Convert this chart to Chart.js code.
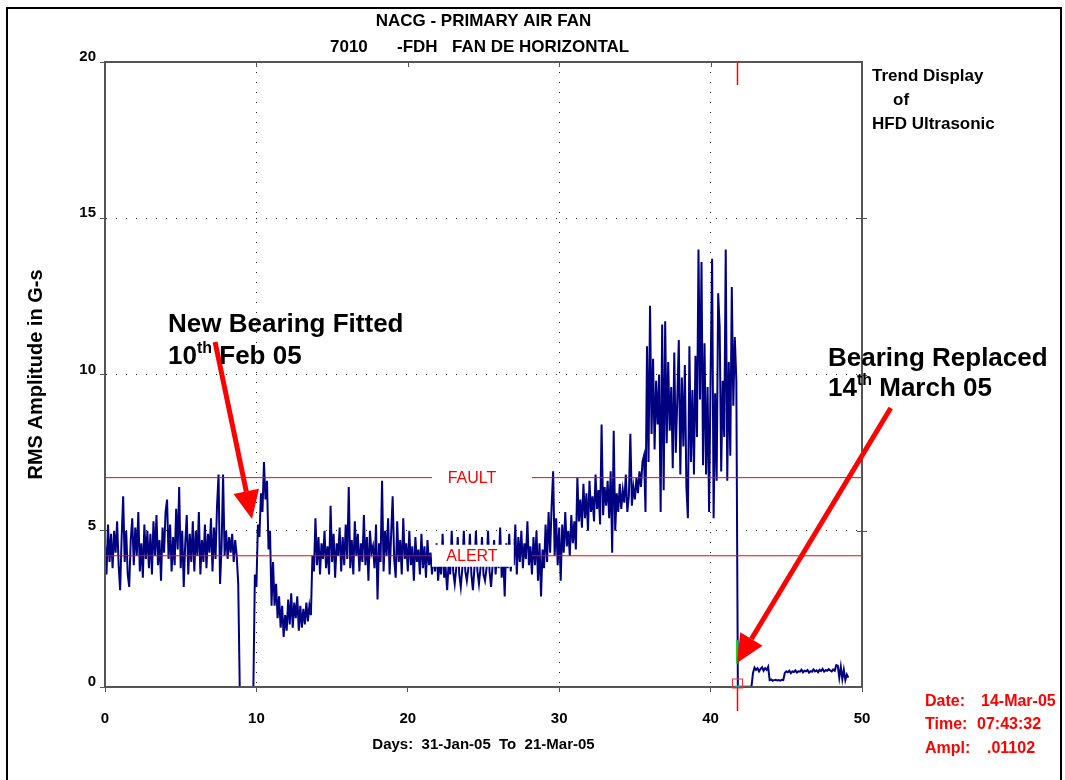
<!DOCTYPE html>
<html>
<head>
<meta charset="utf-8">
<title>NACG - Primary Air Fan HFD trend</title>
<script src="https://cdn.jsdelivr.net/npm/chart.js@4.4.1/dist/chart.umd.min.js"></script>
<style>
  html, body { margin: 0; padding: 0; background: #fff; }
  canvas { display: block; }
</style>
</head>
<body>
<canvas id="trend" width="1065" height="780"></canvas>
<script>
// HFD ultrasonic RMS amplitude (G-s), one reading every 0.1 day
const STEP = 0.1;

// day 0.0 - 8.8, old bearing
const oldBearing = [
  4.6, 3.6, 5.2, 4.0, 4.9, 3.8, 5.0, 4.3, 5.3, 3.9,
  3.1, 4.8, 6.1, 4.0, 5.0, 3.6, 3.2, 4.7, 5.4, 3.9,
  5.1, 4.2, 5.6, 3.7, 4.6, 3.5, 5.2, 4.1, 5.0, 3.8,
  4.9, 3.6, 5.3, 4.2, 5.5, 3.9, 4.7, 3.4, 5.1, 4.3,
  5.6, 6.0, 4.1, 5.2, 3.7, 4.8, 3.9, 5.7, 4.4, 6.4,
  3.8, 5.0, 3.2, 4.6, 5.5, 3.6, 4.9, 4.0, 5.3, 3.7,
  5.0, 4.2, 5.6, 3.6, 4.7, 4.0, 5.2, 3.8, 4.9, 4.3,
  5.4, 3.7, 5.1, 4.1, 5.8, 6.8, 3.3, 4.5, 6.8, 4.2,
  5.0, 4.1, 4.8, 4.3, 4.9, 4.0, 4.7, 4.2, 3.3
];
// day 8.9 - 9.8, fan stopped for the bearing change
const shutdown = [0, 0, 0, 0, 0, 0, 0, 0, 0, 0];
// day 9.9 - 13.6, new bearing running in
const runIn = [
  3.6, 3.2, 5.2, 4.8, 6.2, 5.6, 7.2, 6.0, 6.6, 4.4,
  5.0, 2.6, 4.0, 2.6, 3.3, 2.2, 2.9, 1.9, 2.6, 1.6,
  2.3, 1.8, 2.8, 2.0, 3.0, 1.9, 2.7, 2.2, 2.9, 1.8,
  2.6, 1.9, 2.5, 2.0, 2.7, 2.1, 2.6, 2.3
];
// day 13.7 - 21.7
const settled = [
  4.2, 3.7, 5.4, 3.9, 4.8, 3.6, 4.6, 4.1, 5.0, 3.8,
  4.5, 3.6, 5.8, 4.0, 4.9, 3.5, 4.6, 4.2, 5.1, 3.7,
  4.8, 3.9, 5.2, 4.1, 6.4, 3.8, 4.7, 3.6, 5.3, 4.2,
  4.9, 3.7, 4.6, 4.0, 5.5, 3.9, 4.8, 3.4, 5.0, 4.3,
  4.5, 3.8, 5.2, 2.8, 4.6, 4.0, 6.6, 3.7, 5.0, 4.2,
  5.4, 3.6, 4.9, 6.1, 4.1, 3.5, 5.3, 4.0, 4.7, 3.6,
  5.4, 4.1, 4.6, 3.7, 5.0, 3.9, 4.5, 3.4, 4.8, 4.0,
  4.4, 3.6, 4.9, 3.8, 4.5, 3.5, 4.7, 3.9, 4.3, 3.6,
  4.4
];
// day 21.8 - 28.0
const quietSpell = [
  3.7, 4.6, 3.4, 4.0, 3.6, 4.9, 3.5, 3.8, 3.1, 4.0,
  3.6, 5.0, 3.7, 3.3, 3.8, 4.8, 3.6, 3.2, 3.8, 5.0,
  3.7, 3.4, 3.8, 4.9, 3.6, 3.1, 3.8, 5.0, 3.7, 3.3,
  3.8, 4.8, 3.6, 3.4, 3.8, 5.0, 3.7, 3.2, 3.9, 4.7,
  3.6, 4.4, 3.8, 5.1, 3.5, 4.2, 2.9, 4.6, 3.8, 4.9,
  3.7, 4.5, 3.9, 5.2, 3.6, 4.8, 4.0, 5.0, 3.8, 4.6,
  4.1, 5.3, 3.9
];
// day 28.1 - 35.5
const degrading = [
  4.5, 3.6, 4.8, 3.9, 5.0, 3.4, 4.6, 2.9, 4.4, 3.8,
  5.2, 4.0, 5.6, 4.3, 5.8, 6.9, 4.2, 5.4, 3.9, 5.1,
  3.4, 5.2, 4.3, 5.6, 4.5, 5.0, 4.2, 5.5, 4.6, 5.3,
  4.4, 6.7, 5.3, 6.0, 5.1, 6.5, 5.4, 6.2, 5.0, 6.6,
  5.6, 6.1, 5.3, 6.8, 5.7, 6.3, 5.2, 8.4, 5.5, 6.4,
  5.8, 6.6, 5.4, 6.9, 4.3, 8.2, 5.0, 6.2, 5.6, 6.5,
  5.7, 6.3, 5.9, 6.8, 5.6, 6.1, 8.1, 5.8, 6.4, 6.0,
  6.7, 6.2, 6.9, 6.4, 7.2
];
// day 35.6 - 41.7
const failing = [
  7.4, 5.6, 10.9, 7.2, 12.2, 8.1, 10.5, 7.6, 9.8, 8.4,
  10.0, 5.6, 11.6, 6.3, 11.7, 7.8, 10.4, 8.2, 9.6, 7.0,
  10.7, 7.5, 9.2, 11.1, 6.8, 9.9, 7.7, 10.3, 6.4, 5.4,
  10.9, 7.2, 9.5, 6.8, 10.6, 8.0, 14.0, 9.2, 13.6, 7.1,
  11.0, 6.8, 9.6, 5.6, 10.0, 13.7, 5.4, 9.4, 6.6, 12.6,
  11.5, 6.9, 9.8, 8.0, 14.0, 6.6, 10.4, 7.4, 12.8, 9.0,
  11.2, 9.8
];
// day 41.8 - 49.1, after the bearing was replaced
const replaced = [
  0.01, 0.01, 0.01, 0.01, 0.01, 0.01, 0.01, 0.01, 0.01, 0.01,
  0.45, 0.62, 0.55, 0.60, 0.50, 0.58, 0.63, 0.52, 0.60, 0.55, 0.65,
  0.22, 0.24, 0.20, 0.22, 0.23, 0.21, 0.22, 0.20, 0.23, 0.22,
  0.45, 0.50, 0.47, 0.52, 0.44, 0.50, 0.48, 0.53, 0.46, 0.50,
  0.49, 0.55, 0.47, 0.52, 0.50, 0.54, 0.46, 0.51, 0.49, 0.56,
  0.50, 0.53, 0.47, 0.55, 0.51, 0.58, 0.49, 0.54, 0.52, 0.57,
  0.53, 0.50, 0.56, 0.52,
  0.70, 0.68, 0.30, 0.65, 0.25, 0.55, 0.22, 0.40, 0.30
];

const segments = [oldBearing, shutdown, runIn, settled, quietSpell, degrading, failing, replaced];
const segmentStart = [0, 8.9, 9.9, 13.7, 21.8, 28.1, 35.6, 41.8];

const FAULT_LEVEL = 6.7;
const ALERT_LEVEL = 4.2;
const labelGap = [21.6, 28.2];   // limit lines break here for their labels
const cursorDay = 41.75;
const cursorMark = [0.75, 1.5];  // green part of the trace at the cursor

const xTicks = [0, 10, 20, 30, 40, 50];
const yTicks = [0, 5, 10, 15, 20];

const FONT = '"Liberation Sans", Arial, Helvetica, sans-serif';

const trace = [];
segments.forEach((seg, s) => {
  seg.forEach((v, i) => {
    trace.push({ x: Math.round((segmentStart[s] + i * STEP) * 100) / 100, y: v });
  });
});

function limitLine(level) {
  return [
    { x: 0, y: level }, { x: labelGap[0], y: level },
    { x: (labelGap[0] + labelGap[1]) / 2, y: null },
    { x: labelGap[1], y: level }, { x: 50, y: level }
  ];
}

function arrow(ctx, x0, y0, x1, y1) {
  const a = Math.atan2(y1 - y0, x1 - x0);
  const len = 28, half = 13;
  const bx = x1 - len * Math.cos(a), by = y1 - len * Math.sin(a);
  ctx.strokeStyle = '#ff0000';
  ctx.fillStyle = '#ff0000';
  ctx.lineWidth = 5;
  ctx.beginPath();
  ctx.moveTo(x0, y0);
  ctx.lineTo(bx, by);
  ctx.stroke();
  ctx.beginPath();
  ctx.moveTo(x1, y1);
  ctx.lineTo(bx + half * Math.sin(a), by - half * Math.cos(a));
  ctx.lineTo(bx - half * Math.sin(a), by + half * Math.cos(a));
  ctx.closePath();
  ctx.fill();
}

// text with a raised ordinal suffix, e.g. 10th
function supText(ctx, x, y, parts, size) {
  parts.forEach(p => {
    const sup = p[1];
    ctx.font = 'bold ' + (sup ? Math.round(size * 0.62) : size) + 'px ' + FONT;
    ctx.fillText(p[0], x, sup ? y - size * 0.42 : y);
    x += ctx.measureText(p[0]).width;
  });
}

const decor = {
  id: 'decor',
  afterDatasetsDraw(chart) {
    const { ctx, chartArea: a, scales: { x, y } } = chart;
    ctx.save();

    // limit labels
    const lx = x.getPixelForValue((labelGap[0] + labelGap[1]) / 2) - 10;
    const ay = y.getPixelForValue(ALERT_LEVEL);
    ctx.fillStyle = '#fff';
    ctx.fillRect(x.getPixelForValue(labelGap[0]), ay - 11, x.getPixelForValue(27.0) - x.getPixelForValue(labelGap[0]), 22);
    ctx.fillStyle = '#ff0000';
    ctx.font = '16px ' + FONT;
    ctx.textAlign = 'center';
    ctx.textBaseline = 'middle';
    ctx.fillText('FAULT', lx, y.getPixelForValue(FAULT_LEVEL) + 1);
    ctx.fillText('ALERT', lx, ay + 1);

    // plot frame and the ticks on the top and right edges
    ctx.strokeStyle = '#555';
    ctx.lineWidth = 2;
    ctx.strokeRect(a.left, a.top, a.right - a.left, a.bottom - a.top);
    ctx.lineWidth = 1;
    ctx.beginPath();
    xTicks.slice(1, -1).forEach(t => {
      const px = Math.round(x.getPixelForValue(t)) + 0.5;
      ctx.moveTo(px, a.top);
      ctx.lineTo(px, a.top + 5);
    });
    yTicks.slice(1, -1).forEach(t => {
      const py = Math.round(y.getPixelForValue(t)) + 0.5;
      ctx.moveTo(a.right - 5, py);
      ctx.lineTo(a.right + 5, py);
    });
    ctx.stroke();

    // date cursor
    const cx = Math.round(x.getPixelForValue(cursorDay)) + 0.5;
    ctx.strokeStyle = '#ff0000';
    ctx.lineWidth = 1.5;
    ctx.beginPath();
    ctx.moveTo(cx, a.top);
    ctx.lineTo(cx, a.top + 23);
    ctx.moveTo(cx, a.bottom);
    ctx.lineTo(cx, a.bottom + 24);
    ctx.stroke();
    ctx.lineWidth = 1;
    ctx.strokeStyle = '#00d8d8';
    ctx.beginPath();
    ctx.moveTo(cx - 3, a.bottom - 1);
    ctx.lineTo(cx + 3, a.bottom - 1);
    ctx.stroke();
    ctx.strokeStyle = '#ff3030';
    ctx.strokeRect(cx - 5, a.bottom - 8, 10, 9);

    // arrows
    arrow(ctx, x.getPixelForValue(7.27), y.getPixelForValue(11.04), x.getPixelForValue(9.71), y.getPixelForValue(5.38));
    arrow(ctx, x.getPixelForValue(51.9), y.getPixelForValue(8.93), x.getPixelForValue(41.74), y.getPixelForValue(0.77));

    // annotations
    ctx.textAlign = 'left';
    ctx.textBaseline = 'alphabetic';
    ctx.fillStyle = '#000';
    supText(ctx, 168, 332, [['New Bearing Fitted']], 26);
    supText(ctx, 168, 364, [['10'], ['th', true], [' Feb 05']], 26);
    supText(ctx, 828, 366, [['Bearing Replaced']], 26);
    supText(ctx, 828, 396, [['14'], ['th', true], [' March 05']], 26);

    // titles
    ctx.font = 'bold 17px ' + FONT;
    ctx.textAlign = 'center';
    ctx.fillText('NACG - PRIMARY AIR FAN', (a.left + a.right) / 2, 26);
    ctx.textAlign = 'left';
    ctx.fillText('7010', 330, 52);
    ctx.fillText('-FDH', 397, 52);
    ctx.fillText('FAN DE HORIZONTAL', 452, 52);

    ctx.fillText('Trend Display', 872, 81);
    ctx.fillText('of', 893, 105);
    ctx.fillText('HFD Ultrasonic', 872, 129);

    ctx.fillStyle = '#ff0000';
    ctx.font = 'bold 16px ' + FONT;
    ctx.fillText('Date:', 925, 706);
    ctx.fillText('14-Mar-05', 981, 706);
    ctx.fillText('Time:', 925, 729);
    ctx.fillText('07:43:32', 977, 729);
    ctx.fillText('Ampl:', 925, 753);
    ctx.fillText('.01102', 987, 753);

    // outer border
    ctx.strokeStyle = '#000';
    ctx.lineWidth = 2;
    ctx.strokeRect(7, 8, 1054, 800);
    ctx.restore();
  }
};

const gridColor = c => (c.tick && (c.tick.value === 0 || c.tick.value === 20 || c.tick.value === 50)) ? 'rgba(0,0,0,0)' : '#222';

new Chart(document.getElementById('trend'), {
  type: 'line',
  data: {
    datasets: [
      { label: 'HFD', data: trace, borderColor: '#000080', borderWidth: 2, pointRadius: 0, order: 3 },
      { label: 'Fault', data: limitLine(FAULT_LEVEL), borderColor: '#ff0000', borderWidth: 1, pointRadius: 0, spanGaps: false, order: 1 },
      { label: 'Alert', data: limitLine(ALERT_LEVEL), borderColor: '#ff0000', borderWidth: 1, pointRadius: 0, spanGaps: false, order: 1 },
      { label: 'Cursor', data: [{ x: cursorDay, y: cursorMark[0] }, { x: cursorDay, y: cursorMark[1] }], borderColor: '#00e000', borderWidth: 2, pointRadius: 0, order: 0 }
    ]
  },
  options: {
    responsive: false,
    animation: false,
    events: [],
    layout: { padding: { top: 62, right: 203, bottom: 0, left: 0 } },
    plugins: { legend: { display: false }, tooltip: { enabled: false } },
    scales: {
      x: {
        type: 'linear', min: 0, max: 50,
        afterFit: s => { s.height = 93; },
        afterBuildTicks: s => { s.ticks = xTicks.map(v => ({ value: v })); },
        ticks: { color: '#000', font: { family: FONT, size: 15, weight: 'bold' }, padding: 18, maxRotation: 0 },
        grid: { color: gridColor, tickColor: '#555', tickLength: 5, lineWidth: 1 },
        border: { color: '#555', width: 2, dash: [1, 9] },
        title: { display: true, text: 'Days:  31-Jan-05  To  21-Mar-05', color: '#000', font: { family: FONT, size: 15, weight: 'bold' }, padding: { top: 0, bottom: 26 } }
      },
      y: {
        min: 0, max: 20,
        afterFit: s => { s.width = 105; },
        afterBuildTicks: s => { s.ticks = yTicks.map(v => ({ value: v })); },
        ticks: { color: '#000', font: { family: FONT, size: 15, weight: 'bold' }, padding: 4, labelOffset: -5 },
        grid: { color: gridColor, tickColor: '#555', tickLength: 5, lineWidth: 1 },
        border: { color: '#555', width: 2, dash: [1, 9] },
        title: { display: true, text: 'RMS Amplitude in G-s', color: '#000', font: { family: FONT, size: 20, weight: 'bold' }, padding: { top: 24, bottom: 0 } }
      }
    }
  },
  plugins: [decor]
});
</script>
</body>
</html>
